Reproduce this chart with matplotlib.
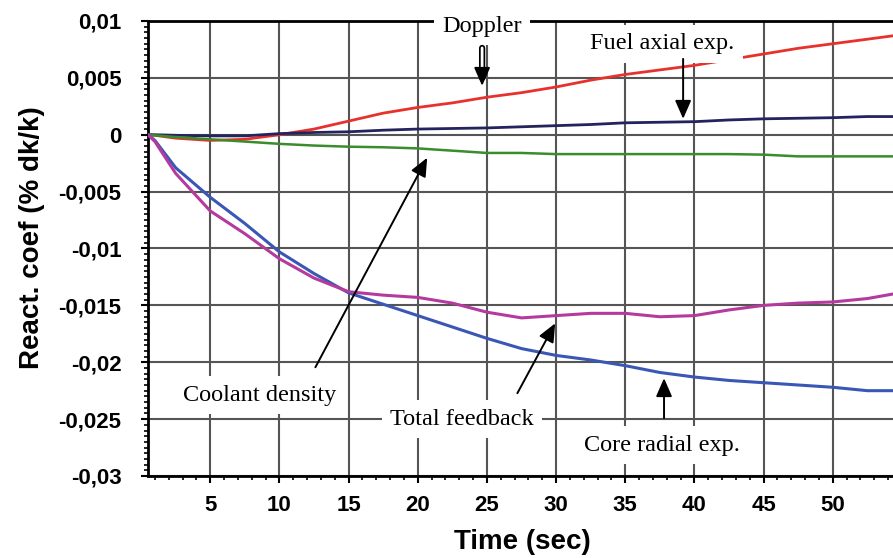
import matplotlib
import matplotlib.pyplot as plt
from matplotlib.ticker import MultipleLocator, FuncFormatter

matplotlib.use("Agg")

# Reactivity feedback components vs. time
time_s = [0.5, 1, 2.5, 5, 7.5, 10, 12.5, 15, 17.5, 20, 22.5, 25, 27.5, 30,
          32.5, 35, 37.5, 40, 42.5, 45, 47.5, 50, 52.5, 54.35]

doppler = [0.0, -0.00005, -0.0003, -0.0005, -0.0004, 0.0, 0.0005, 0.0012,
           0.0019, 0.0024, 0.0028, 0.0033, 0.0037, 0.0042, 0.0048, 0.0053,
           0.0057, 0.0061, 0.0066, 0.0071, 0.0076, 0.0080, 0.0084, 0.0087]

fuel_axial = [0.0, 0.0, -0.00005, -0.0001, -0.0001, 0.0001, 0.0002, 0.00026,
              0.0004, 0.0005, 0.00055, 0.0006, 0.0007, 0.0008, 0.0009, 0.00105,
              0.0011, 0.00115, 0.0013, 0.0014, 0.00145, 0.0015, 0.0016, 0.0016]

coolant_density = [0.0, -0.00005, -0.0002, -0.0004, -0.0006, -0.0008, -0.00095,
                   -0.00105, -0.0011, -0.0012, -0.0014, -0.0016, -0.0016, -0.0017,
                   -0.0017, -0.0017, -0.0017, -0.0017, -0.0017, -0.00175, -0.0019,
                   -0.0019, -0.0019, -0.0019]

core_radial = [0.0, -0.0005, -0.0029, -0.0055, -0.0078, -0.0103, -0.0122,
               -0.0139, -0.0149, -0.0159, -0.0169, -0.0179, -0.0188, -0.0194,
               -0.0198, -0.0203, -0.0209, -0.0213, -0.0216, -0.0218, -0.0220,
               -0.0222, -0.0225, -0.0225]

total_feedback = [0.0, -0.0006, -0.0034, -0.0067, -0.0087, -0.0109, -0.0126,
                  -0.0138, -0.0141, -0.0143, -0.0148, -0.0156, -0.0161, -0.0159,
                  -0.0157, -0.0157, -0.0160, -0.0159, -0.0154, -0.0150, -0.0148,
                  -0.0147, -0.0144, -0.0140]

SANS = "Liberation Sans"
SERIF = "Liberation Serif"

fig = plt.figure(figsize=(8.93, 5.58), dpi=100)
ax = fig.add_axes([148 / 893, 82 / 558, 745 / 893, 455 / 558])

ax.plot(time_s, doppler, color="#e8312d", lw=2.0, zorder=3)
ax.plot(time_s, fuel_axial, color="#23235e", lw=2.0, zorder=3)
ax.plot(time_s, coolant_density, color="#3b8c2c", lw=1.8, zorder=3)
ax.plot(time_s, core_radial, color="#3a57b5", lw=2.2, zorder=3)
ax.plot(time_s, total_feedback, color="#b53a9e", lw=2.2, zorder=3)

ax.set_xlim(0.5, 54.35)
ax.set_ylim(-0.03, 0.01)

ax.xaxis.set_major_locator(MultipleLocator(5))
ax.xaxis.set_minor_locator(MultipleLocator(1))
ax.yaxis.set_major_locator(MultipleLocator(0.005))
ax.yaxis.set_minor_locator(MultipleLocator(0.0005))
ax.yaxis.set_major_formatter(FuncFormatter(lambda v, p: f"{round(v, 4):g}".replace(".", ",")))

ax.grid(True, which="major", color="#555555", lw=1.5, zorder=1)
ax.set_axisbelow(True)

for side in ("left", "bottom", "top"):
    ax.spines[side].set_linewidth(2.0)
    ax.spines[side].set_color("black")
    ax.spines[side].set_zorder(2)
ax.spines["right"].set_visible(False)

ax.tick_params(which="major", direction="out", length=5, width=1.5,
               labelsize=16)
ax.tick_params(which="minor", direction="out", length=3, width=1.2)
ax.tick_params(axis="x", pad=9)
ax.tick_params(axis="y", pad=14)
for lab in ax.get_xticklabels() + ax.get_yticklabels():
    lab.set_fontfamily(SANS)
    lab.set_fontweight("bold")

ax.set_xlabel("Time (sec)", fontsize=20, fontweight="bold", family=SANS)
ax.set_ylabel("React. coef (% dk/k)", fontsize=20, fontweight="bold", family=SANS)
ax.xaxis.set_label_coords(0.502, -0.116)
ax.yaxis.set_label_coords(-0.138, 0.523)

box = dict(boxstyle="square,pad=0.35", fc="white", ec="none")
label_kw = dict(fontsize=17.5, family=SERIF, ha="center", va="center",
                bbox=box, zorder=5)

ax.text(24.65, 0.00956, "Doppler", **label_kw)
ax.text(37.66, 0.00798, "Fuel axial exp.", **label_kw)
ax.text(8.54, -0.0229, "Coolant density", **label_kw)
ax.text(23.2, -0.0250, "Total feedback", **label_kw)
ax.text(37.66, -0.02728, "Core radial exp.", **label_kw)

head = dict(arrowstyle="-|>,head_length=0.8,head_width=0.35", color="black",
            lw=1.4, mutation_scale=14, shrinkA=0, shrinkB=0)


def pointer(tip, tail):
    ax.annotate("", xy=tip, xytext=tail, arrowprops=head, zorder=6)


# Doppler pointer: double-lined shaft (black line with a white core)
ax.annotate("", xy=(24.65, 0.0050), xytext=(24.65, 0.00763),
            arrowprops=dict(arrowstyle="-", color="black", lw=4.5,
                            shrinkA=0, shrinkB=0), zorder=6)
ax.annotate("", xy=(24.65, 0.0050), xytext=(24.65, 0.00763),
            arrowprops=dict(arrowstyle="-", color="white", lw=2.0,
                            shrinkA=0, shrinkB=0), zorder=6)
pointer((24.65, 0.0043), (24.65, 0.0051))

pointer((39.18, 0.0014), (39.18, 0.00667))
pointer((20.68, -0.00202), (12.6, -0.02044))
pointer((29.93, -0.01658), (27.2, -0.02272))
pointer((37.8, -0.0214), (37.8, -0.02491))

fig.savefig("out.png", dpi=100)
plt.close(fig)
